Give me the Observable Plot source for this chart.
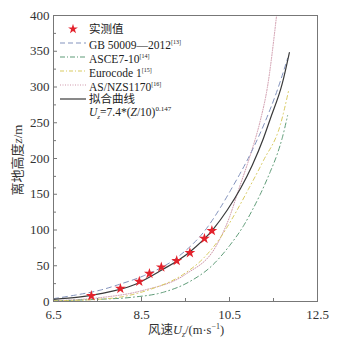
<!DOCTYPE html>
<html><head><meta charset="utf-8">
<script src="https://cdn.jsdelivr.net/npm/d3@7"></script>
<script src="https://cdn.jsdelivr.net/npm/@observablehq/plot@0.6"></script>
<style>
body{margin:0;background:#fff;}
#wrap{position:relative;width:338px;height:342px;font-family:"Liberation Serif","Noto Sans CJK SC",serif;}
#wrap svg text{font-family:"Liberation Serif","Noto Sans CJK SC",serif !important;}
#legend{position:absolute;left:60px;top:22px;font-size:11.5px;line-height:14px;color:#222;}
#legend .row{display:flex;align-items:center;height:14px;white-space:nowrap;}
#legend svg{width:26px;height:10px;margin-right:3px;flex:none;}
sup{font-size:6px;vertical-align:5px;}
</style></head>
<body><div id="wrap"></div>
<script>
const starU = [7.36, 8.02, 8.45, 8.68, 8.95, 9.3, 9.6, 9.93, 10.1];
const starZ = [8, 18, 28, 39, 48, 57, 68, 88, 99];
const fitU = [6.5, 7.07, 7.57, 8.32, 8.93, 9.59, 10.14, 10.45, 10.75, 11.02, 11.27, 11.43, 11.7, 11.86];
const fitZ = [3, 6, 11, 23, 43, 69, 102, 128, 158, 191, 228, 256, 305, 348];
const gbU = [6.5, 7.0, 7.57, 8.0, 8.55, 9.32, 10.0, 10.3, 10.52, 11.02, 11.3, 11.6, 11.82];
const gbZ = [4, 9, 16, 24, 36, 62, 104, 132, 155, 212, 250, 298, 340];
const asceU = [6.5, 7.5, 8.3, 9.0, 9.6, 10.1, 10.5, 10.82, 11.02, 11.2, 11.43, 11.59, 11.7, 11.82];
const asceZ = [1, 3, 6, 13, 28, 50, 78, 106, 128, 150, 182, 207, 229, 260];
const euroU = [6.5, 7.5, 8.0, 8.7, 9.45, 9.9, 10.3, 10.6, 10.93, 11.27, 11.66, 11.84];
const euroZ = [1, 3, 6, 17, 38, 60, 90, 120, 157, 197, 248, 294];
const asnzU = [6.5, 7.5, 8.5, 9.5, 10.2, 10.5, 10.7, 11.0, 11.2, 11.36, 11.57];
const asnzZ = [1, 5, 15, 38, 78, 118, 155, 210, 253, 299, 400];
const xTicks = [6.5, 8.5, 10.5, 12.5];
const xMinor = [7.5, 9.5, 11.5];
const yTicks = [0, 50, 100, 150, 200, 250, 300, 350, 400];
const yMinor = [25, 75, 125, 175, 225, 275, 325, 375];

const zip = (u, z) => u.map((v, i) => ({u: v, z: z[i]}));
const colors = {gb: "#8393bd", asce: "#5f9c78", euro: "#d9cb63", asnz: "#cf98aa", fit: "#3a3a3a", star: "#e3222c"};
const crv = "monotone-x";

const chart = Plot.plot({
  width: 338, height: 342,
  marginLeft: 53, marginRight: 21, marginTop: 15, marginBottom: 41,
  style: {fontSize: "13px", color: "#333"},
  x: {domain: [6.5, 12.5]},
  y: {domain: [0, 400]},
  marks: [
    Plot.line(zip(asnzU, asnzZ), {x: "u", y: "z", stroke: colors.asnz, strokeWidth: 1, strokeDasharray: "1,1.5", curve: crv, clip: true}),
    Plot.line(zip(gbU, gbZ), {x: "u", y: "z", stroke: colors.gb, strokeWidth: 1, strokeDasharray: "5,4", curve: crv}),
    Plot.line(zip(asceU, asceZ), {x: "u", y: "z", stroke: colors.asce, strokeWidth: 1, strokeDasharray: "5,3,1,3", curve: crv}),
    Plot.line(zip(euroU, euroZ), {x: "u", y: "z", stroke: colors.euro, strokeWidth: 1, strokeDasharray: "4,3,1,3", curve: crv}),
    Plot.line(zip(fitU, fitZ), {x: "u", y: "z", stroke: colors.fit, strokeWidth: 1.2, curve: crv}),
    Plot.dot(zip(starU, starZ), {x: "u", y: "z", symbol: "star", fill: colors.star, r: 3.4}),
    Plot.frame({stroke: "#777", strokeWidth: 1}),
    Plot.axisX({ticks: xTicks, tickSize: -4, tickPadding: 12, stroke: "#777", label: null}),
    Plot.axisX({ticks: xMinor, tickSize: -3, tickFormat: () => "", stroke: "#777", label: null}),
    Plot.axisY({ticks: yTicks, tickSize: -4, tickPadding: 8, stroke: "#777", label: null}),
    Plot.axisY({ticks: yMinor, tickSize: -3, tickFormat: () => "", stroke: "#777", label: null})
  ]
});
const wrap = document.getElementById("wrap");
wrap.appendChild(chart);

const svg = d3.select(chart);
svg.append("text").attr("x", 186).attr("y", 334).attr("text-anchor", "middle")
  .style("font-size", "12.5px")
  .call(t => {
    t.append("tspan").text("风速");
    t.append("tspan").attr("font-style", "italic").text("U");
    t.append("tspan").attr("font-size", "8px").attr("dy", 3).attr("font-style", "italic").text("z");
    t.append("tspan").attr("dy", -3).text("/(m·s");
    t.append("tspan").attr("font-size", "8px").attr("dy", -5).text("−1");
    t.append("tspan").attr("dy", 5).text(")");
  });
svg.append("text").attr("transform", "translate(22,160) rotate(-90)").attr("text-anchor", "middle")
  .style("font-size", "13px")
  .call(t => {
    t.append("tspan").text("离地高度");
    t.append("tspan").attr("font-style", "italic").text("z");
    t.append("tspan").text("/m");
  });

const legendItems = [
  {kind: "star", html: "实测值"},
  {kind: "line", color: colors.gb, dash: "5,3", html: "GB 50009—2012<sup>[13]</sup>"},
  {kind: "line", color: colors.asce, dash: "5,2,1,2", html: "ASCE7-10<sup>[14]</sup>"},
  {kind: "line", color: colors.euro, dash: "4,2,1,2", html: "Eurocode 1<sup>[15]</sup>"},
  {kind: "line", color: colors.asnz, dash: "1,1.5", html: "AS/NZS1170<sup>[16]</sup>"},
  {kind: "line", color: colors.fit, dash: null, html: "拟合曲线"},
  {kind: "none", html: "<i>U</i><sub style='font-size:7px'><i>z</i></sub>=7.4*(<i>Z</i>/10)<sup style='font-size:7px;vertical-align:5px'>0.147</sup>"}
];
const leg = document.createElement("div");
leg.id = "legend";
for (const it of legendItems) {
  const row = document.createElement("div");
  row.className = "row";
  let icon = "";
  if (it.kind === "star") icon = `<svg viewBox="0 0 26 10"><path transform="translate(13,5)" d="${d3.symbol(d3.symbolStar, 30)()}" fill="${colors.star}"/></svg>`;
  else if (it.kind === "line") icon = `<svg viewBox="0 0 26 10"><line x1="0" x2="26" y1="5" y2="5" stroke="${it.color}" stroke-width="1.2" ${it.dash ? `stroke-dasharray="${it.dash}"` : ""}/></svg>`;
  else icon = `<svg viewBox="0 0 26 10"></svg>`;
  row.innerHTML = icon + `<span>${it.html}</span>`;
  leg.appendChild(row);
}
wrap.appendChild(leg);
</script>
</body></html>
